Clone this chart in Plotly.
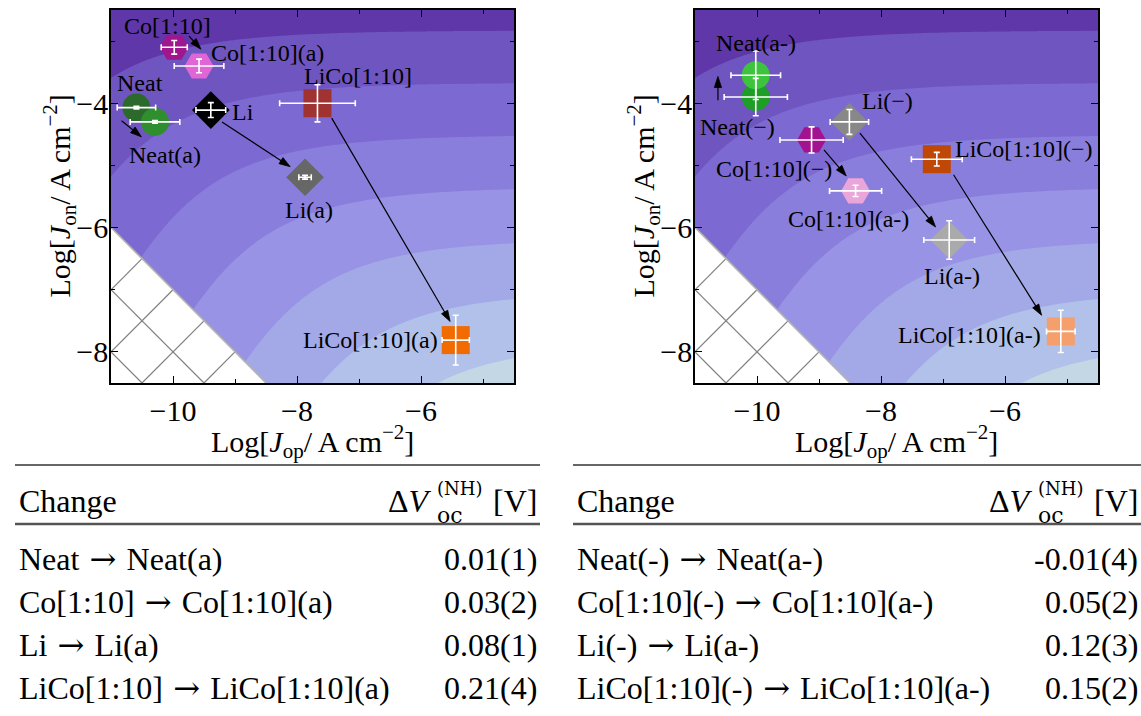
import numpy as np
import plotly.graph_objects as go

# ---------------- samples, as-prepared panel ----------------
LEFT_NAMES = ["Neat", "Neat(a)", "Co[1:10]", "Co[1:10](a)", "Li", "Li(a)", "LiCo[1:10]", "LiCo[1:10](a)"]
LEFT_JOP = [-10.59, -10.29, -9.98, -9.58, -9.39, -7.87, -7.67, -5.44]
LEFT_JON = [-4.07, -4.30, -3.10, -3.40, -4.11, -5.19, -4.00, -7.81]
LEFT_JOP_ERR = [0.31, 0.40, 0.21, 0.40, 0.24, 0.10, 0.61, 0.22]
LEFT_JON_ERR = [0.02, 0.02, 0.11, 0.11, 0.12, 0.03, 0.30, 0.40]

# ---------------- samples, negative-bias panel ----------------
RIGHT_NAMES = ["Neat(−)", "Neat(a-)", "Co[1:10](−)", "Co[1:10](a-)", "Li(−)", "Li(a-)", "LiCo[1:10](−)", "LiCo[1:10](a-)"]
RIGHT_JOP = [-10.02, -10.02, -9.12, -8.41, -8.51, -6.90, -7.10, -5.10]
RIGHT_JON = [-3.90, -3.55, -4.59, -5.41, -4.30, -6.20, -4.90, -7.67]
RIGHT_JOP_ERR = [0.51, 0.40, 0.51, 0.42, 0.31, 0.41, 0.41, 0.23]
RIGHT_JON_ERR = [0.30, 0.39, 0.21, 0.09, 0.20, 0.31, 0.11, 0.34]

# ---------------- table contents ----------------
LEFT_CHANGES = [("Neat", "Neat(a)"), ("Co[1:10]", "Co[1:10](a)"), ("Li", "Li(a)"), ("LiCo[1:10]", "LiCo[1:10](a)")]
LEFT_DVOC = ["0.01(1)", "0.03(2)", "0.08(1)", "0.21(4)"]
RIGHT_CHANGES = [("Neat(-)", "Neat(a-)"), ("Co[1:10](-)", "Co[1:10](a-)"), ("Li(-)", "Li(a-)"),
                 ("LiCo[1:10](-)", "LiCo[1:10](a-)")]
RIGHT_DVOC = ["-0.01(4)", "0.05(2)", "0.12(3)", "0.15(2)"]

# ---------------- styling ----------------
SYMBOLS = ["circle", "circle", "hexagon2", "hexagon2", "diamond", "diamond", "square", "square"]
SIZES = [28, 28, 29, 29, 29, 29, 28, 28]
LEFT_COLORS = ["#2b6a2b", "#2f8f2f", "#a0168f", "#e066d6", "#000000", "#676767", "#a03232", "#f26b00"]
RIGHT_COLORS = ["#1f9e27", "#3cc43c", "#a3128f", "#eaa6da", "#888888", "#aaaaaa", "#c04806", "#f5a06c"]

BAND_COLORS = ["#c3d8e4", "#b2c1ea", "#a3a9e6", "#9893e4", "#8a7edc", "#7c69d2", "#6f55bf", "#5f37a8"]
LEVEL_START, LEVEL_STEP, N_LEVELS = -7.87, 0.84, 7

FONT = "Liberation Serif"
W, H = 1141, 716
XR, YR = [-11, -4.5], [-8.5, -2.5]
FORBIDDEN_SUM = -17.0  # log Jop + log Jon below this is excluded

# label placement: (text, x, y, xanchor)
LEFT_LABELS = [
    ("Co[1:10]", -10.09, -2.76, "center"),
    ("Co[1:10](a)", -8.48, -3.19, "center"),
    ("Neat", -10.53, -3.67, "center"),
    ("Neat(a)", -10.13, -4.83, "center"),
    ("Li", -8.87, -4.14, "center"),
    ("Li(a)", -7.81, -5.72, "center"),
    ("LiCo[1:10]", -7.02, -3.56, "center"),
    ("LiCo[1:10](a)", -5.69, -7.81, "right"),
]
RIGHT_LABELS = [
    ("Neat(a-)", -10.02, -3.03, "center"),
    ("Neat(−)", -10.32, -4.38, "center"),
    ("Li(−)", -7.90, -3.97, "center"),
    ("Co[1:10](−)", -9.73, -5.05, "center"),
    ("Co[1:10](a-)", -8.52, -5.86, "center"),
    ("Li(a-)", -6.85, -6.78, "center"),
    ("LiCo[1:10](−)", -6.84, -4.73, "left"),
    ("LiCo[1:10](a-)", -5.39, -7.73, "right"),
]
# arrows: (tail x, tail y, head x, head y)
LEFT_ARROWS = [
    (-9.74, -2.92, -9.55, -3.13),
    (-10.83, -4.28, -10.51, -4.54),
    (-9.21, -4.30, -8.11, -5.02),
    (-7.44, -4.24, -5.53, -7.51),
]
RIGHT_ARROWS = [
    (-10.63, -3.95, -10.63, -3.57),
    (-8.92, -4.75, -8.56, -5.17),
    (-8.34, -4.48, -7.12, -5.99),
    (-6.83, -5.15, -5.41, -7.41),
]

# frame rectangles in pixels (left, right, top, bottom)
FRAMES = [(111, 514, 10, 383), (695, 1098, 10, 383)]
PX_PER_X = (FRAMES[0][1] - FRAMES[0][0]) / (XR[1] - XR[0])
PX_PER_Y = (FRAMES[0][3] - FRAMES[0][2]) / (YR[1] - YR[0])
HEAD_LEN, HEAD_HALF = 11.0, 3.6  # arrowhead size in pixels


def px(x):
    return x / W


def py(y):
    return 1 - y / H


def surface(x, y):
    """Band surface: follows log Jon, bending down as Jop + Jon shrinks."""
    s = x + y
    return y + 1.95 * np.log10(1 + 10 ** ((-14.1 - s) / 3.0))


def clip_to_triangle(kind, c):
    """Endpoints of a hatch line inside the excluded corner triangle."""
    pts = []
    x0, y0 = XR[0], YR[0]
    if kind == "anti":  # x + y = c
        cand = [(x0, c - x0), (c - y0, y0)]
    else:  # x - y = c
        cand = [(x0, x0 - c), (c + y0, y0), ((c + FORBIDDEN_SUM) / 2, (FORBIDDEN_SUM - c) / 2)]
    for (a, b) in cand:
        if a >= x0 - 1e-9 and b >= y0 - 1e-9 and a + b <= FORBIDDEN_SUM + 1e-9:
            if all(abs(a - p[0]) > 1e-6 or abs(b - p[1]) > 1e-6 for p in pts):
                pts.append((a, b))
    return pts if len(pts) == 2 else None


def arrow_geometry(tx, ty, hx, hy):
    """Shaft end point and head triangle, sized in screen pixels."""
    vx, vy = (hx - tx) * PX_PER_X, (hy - ty) * PX_PER_Y
    n = np.hypot(vx, vy)
    ux, uy = vx / n, vy / n
    bx, by = hx * PX_PER_X - ux * HEAD_LEN, hy * PX_PER_Y - uy * HEAD_LEN
    nx, ny = -uy, ux
    tri_x = [hx, (bx + nx * HEAD_HALF) / PX_PER_X, (bx - nx * HEAD_HALF) / PX_PER_X, hx]
    tri_y = [hy, (by + ny * HEAD_HALF) / PX_PER_Y, (by - ny * HEAD_HALF) / PX_PER_Y, hy]
    return (bx / PX_PER_X + ux * 2 / PX_PER_X, by / PX_PER_Y + uy * 2 / PX_PER_Y), tri_x, tri_y


gx = np.linspace(XR[0], XR[1], 261)
gy = np.linspace(YR[0], YR[1], 241)
GX, GY = np.meshgrid(gx, gy)
Z = surface(GX, GY)

colorscale = [[i / N_LEVELS, c] for i, c in enumerate(BAND_COLORS)]

fig = go.Figure()

panels = [
    ("x", "y", LEFT_JOP, LEFT_JON, LEFT_JOP_ERR, LEFT_JON_ERR, LEFT_COLORS, LEFT_LABELS, LEFT_ARROWS),
    ("x2", "y2", RIGHT_JOP, RIGHT_JON, RIGHT_JOP_ERR, RIGHT_JON_ERR, RIGHT_COLORS, RIGHT_LABELS, RIGHT_ARROWS),
]

annotations = []
for xa, ya, jop, jon, ejop, ejon, cols, labels, arrows in panels:
    fig.add_trace(go.Contour(
        x=gx, y=gy, z=Z, xaxis=xa, yaxis=ya,
        colorscale=colorscale, showscale=False, hoverinfo="skip",
        contours=dict(start=LEVEL_START, end=LEVEL_START + LEVEL_STEP * (N_LEVELS - 1) + 0.01,
                      size=LEVEL_STEP, coloring="fill", showlines=False),
        line=dict(width=0),
    ))
    # excluded corner
    tri_x = [XR[0], XR[0], FORBIDDEN_SUM - YR[0], XR[0]]
    tri_y = [FORBIDDEN_SUM - XR[0], YR[0], YR[0], FORBIDDEN_SUM - XR[0]]
    fig.add_trace(go.Scatter(x=tri_x, y=tri_y, xaxis=xa, yaxis=ya, mode="lines", fill="toself",
                             fillcolor="white", line=dict(width=0), hoverinfo="skip", showlegend=False))
    hx, hy = [], []
    for c in np.arange(FORBIDDEN_SUM - 1, XR[0] + YR[0] - 0.5, -1.0):
        seg = clip_to_triangle("anti", c)
        if seg:
            hx += [seg[0][0], seg[1][0], None]
            hy += [seg[0][1], seg[1][1], None]
    for c in np.arange(XR[0] - (FORBIDDEN_SUM - XR[0]) + 1, FORBIDDEN_SUM - 2 * YR[0] - 0.5, 1.0):
        seg = clip_to_triangle("diag", c)
        if seg:
            hx += [seg[0][0], seg[1][0], None]
            hy += [seg[0][1], seg[1][1], None]
    fig.add_trace(go.Scatter(x=hx, y=hy, xaxis=xa, yaxis=ya, mode="lines",
                             line=dict(color="#808080", width=1.2), hoverinfo="skip", showlegend=False))
    fig.add_trace(go.Scatter(x=[XR[0], FORBIDDEN_SUM - YR[0]], y=[FORBIDDEN_SUM - XR[0], YR[0]],
                             xaxis=xa, yaxis=ya, mode="lines",
                             line=dict(color="#b4b4b4", width=1.6), hoverinfo="skip", showlegend=False))
    # sample markers
    fig.add_trace(go.Scatter(x=jop, y=jon, xaxis=xa, yaxis=ya, mode="markers",
                             marker=dict(symbol=SYMBOLS, size=SIZES, color=cols, opacity=1,
                                         line=dict(width=0)),
                             hoverinfo="skip", showlegend=False))
    # white error bars on top of the markers
    fig.add_trace(go.Scatter(x=jop, y=jon, xaxis=xa, yaxis=ya, mode="markers",
                             marker=dict(size=1, color="rgba(0,0,0,0)"),
                             error_x=dict(type="data", array=ejop, color="white", thickness=1.6, width=3),
                             error_y=dict(type="data", array=ejon, color="white", thickness=1.6, width=3),
                             hoverinfo="skip", showlegend=False))
    # arrows between paired samples
    sx, sy, ax_, ay_ = [], [], [], []
    for tx, ty, hx_, hy_ in arrows:
        (ex, ey), trx, tryy = arrow_geometry(tx, ty, hx_, hy_)
        sx += [tx, ex, None]
        sy += [ty, ey, None]
        ax_ += trx + [None]
        ay_ += tryy + [None]
    fig.add_trace(go.Scatter(x=sx, y=sy, xaxis=xa, yaxis=ya, mode="lines",
                             line=dict(color="black", width=1.2), hoverinfo="skip", showlegend=False))
    fig.add_trace(go.Scatter(x=ax_, y=ay_, xaxis=xa, yaxis=ya, mode="lines", fill="toself",
                             fillcolor="black", line=dict(color="black", width=0.8),
                             hoverinfo="skip", showlegend=False))
    for text, x, y, anc in labels:
        annotations.append(dict(x=x, y=y, xref=xa, yref=ya, text=text, showarrow=False,
                                xanchor=anc, yanchor="middle",
                                font=dict(family=FONT, size=24, color="black")))

# axis titles
for (l, r, t, b) in FRAMES:
    annotations.append(dict(x=px((l + r) / 2), y=py(441), xref="paper", yref="paper",
                            text="Log[<i>J</i><sub>op</sub>/ A cm<sup>−2</sup>]", showarrow=False,
                            xanchor="center", yanchor="middle",
                            font=dict(family=FONT, size=30, color="black")))
    annotations.append(dict(x=px(l - 51), y=py((t + b) / 2), xref="paper", yref="paper",
                            text="Log[<i>J</i><sub>on</sub>/ A cm<sup>−2</sup>]", showarrow=False,
                            textangle=-90, xanchor="center", yanchor="middle",
                            font=dict(family=FONT, size=30, color="black")))

# tables
shapes = []
TABLE_FONT = dict(family=FONT, size=32, color="black")
ARROW_SPAN = "<span style='font-family:DejaVu Serif'> → </span>"
ROW_Y = [559, 602, 645, 688]
for (x0, x1, changes, dvoc) in [(15, 540, LEFT_CHANGES, LEFT_DVOC), (573, 1141, RIGHT_CHANGES, RIGHT_DVOC)]:
    shapes.append(dict(type="line", xref="paper", yref="paper", x0=px(x0), x1=px(x1), y0=py(465), y1=py(465),
                       line=dict(color="#333333", width=1.5)))
    shapes.append(dict(type="line", xref="paper", yref="paper", x0=px(x0), x1=px(x1), y0=py(524), y1=py(524),
                       line=dict(color="#555555", width=2.5)))
    annotations.append(dict(x=px(x0 + 2), y=py(501), xref="paper", yref="paper", text="Change",
                            showarrow=False, xanchor="left", yanchor="middle", font=TABLE_FONT))
    annotations.append(dict(x=px(x1 - 1), y=py(501), xref="paper", yref="paper", text="[V]",
                            showarrow=False, xanchor="right", yanchor="middle", font=TABLE_FONT))
    annotations.append(dict(x=px(x1 - 106), y=py(501), xref="paper", yref="paper", text="Δ<i>V</i>",
                            showarrow=False, xanchor="right", yanchor="middle", font=TABLE_FONT))
    annotations.append(dict(x=px(x1 - 105), y=py(489), xref="paper", yref="paper", text="(NH)",
                            showarrow=False, xanchor="left", yanchor="middle",
                            font=dict(family="DejaVu Serif", size=18, color="black")))
    annotations.append(dict(x=px(x1 - 105), y=py(515), xref="paper", yref="paper", text="oc",
                            showarrow=False, xanchor="left", yanchor="middle",
                            font=dict(family="DejaVu Serif", size=22, color="black")))
    for yy, (a, b), dv in zip(ROW_Y, changes, dvoc):
        annotations.append(dict(x=px(x0 + 2), y=py(yy), xref="paper", yref="paper", text=a + ARROW_SPAN + b,
                                showarrow=False, xanchor="left", yanchor="middle", font=TABLE_FONT))
        annotations.append(dict(x=px(x1 - 1), y=py(yy), xref="paper", yref="paper", text=dv,
                                showarrow=False, xanchor="right", yanchor="middle", font=TABLE_FONT))


def axis_common(domain, rng, tickvals, minorvals, anchor, standoff):
    return dict(domain=domain, range=rng, anchor=anchor, tickvals=tickvals,
                ticktext=[("−" + str(abs(v))) if v < 0 else str(v) for v in tickvals],
                ticks="inside", ticklen=7, tickwidth=1.3, tickcolor="black",
                ticklabelstandoff=standoff,
                minor=dict(tickvals=minorvals, ticks="inside", ticklen=4, tickwidth=1.3, tickcolor="black",
                           showgrid=False),
                showline=True, linecolor="black", linewidth=1.5, mirror="allticks",
                showgrid=False, zeroline=False, fixedrange=True,
                tickfont=dict(family=FONT, size=30, color="black"))


ydom = [py(FRAMES[0][3]), py(FRAMES[0][2])]
fig.update_layout(
    width=W, height=H, autosize=False,
    margin=dict(l=0, r=0, t=0, b=0),
    paper_bgcolor="white", plot_bgcolor="white",
    showlegend=False,
    xaxis=axis_common([px(FRAMES[0][0]), px(FRAMES[0][1])], XR, [-10, -8, -6], [-11, -9, -7, -5], "y", 0),
    yaxis=axis_common(ydom, YR, [-8, -6, -4], [-7, -5, -3], "x", -5),
    xaxis2=axis_common([px(FRAMES[1][0]), px(FRAMES[1][1])], XR, [-10, -8, -6], [-11, -9, -7, -5], "y2", 0),
    yaxis2=axis_common(ydom, YR, [-8, -6, -4], [-7, -5, -3], "x2", -5),
    annotations=annotations,
    shapes=shapes,
)

fig.write_html("out.html")
